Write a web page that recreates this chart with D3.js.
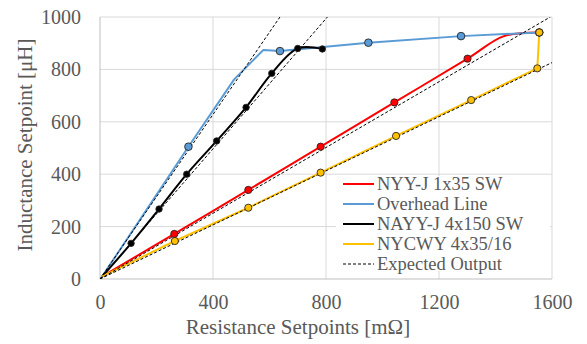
<!DOCTYPE html>
<html><head><meta charset="utf-8">
<script src="https://cdn.jsdelivr.net/npm/d3@7"></script>
<style>
html,body{margin:0;padding:0;background:#fff;}
svg{display:block;font-family:"Liberation Serif","Times New Roman",serif;}
</style></head>
<body>
<svg id="chart" width="587" height="344"></svg>
<script>
// ---- data ----
const xTicks = [0, 400, 800, 1200, 1600];
const yTicks = [0, 200, 400, 600, 800, 1000];

const seriesNames = ["NYY-J 1x35 SW", "Overhead Line", "NAYY-J 4x150 SW", "NYCWY 4x35/16"];
const expectedName = "Expected Output";

const nyyX = [8, 263, 525, 781, 1042, 1301, 1430, 1555];
const nyyY = [10, 172, 340, 505, 674, 841, 927, 941];
const nyyMark = [0, 1, 1, 1, 1, 1, 0, 1];

const ohlX = [8, 313, 475, 578, 637, 950, 1278, 1555];
const ohlY = [10, 505, 762, 874, 870, 902, 927, 941];
const ohlMark = [0, 1, 0, 0, 1, 1, 1, 1];

const nayyX = [8, 110, 209, 307, 413, 517, 608, 700, 787];
const nayyY = [10, 136, 267, 400, 527, 655, 785, 880, 878];
const nayyMark = [0, 1, 1, 1, 1, 1, 1, 1, 1];

const nycwyX = [8, 265, 525, 781, 1048, 1314, 1548, 1555];
const nycwyY = [10, 145, 272, 406, 546, 683, 804, 941];
const nycwyMark = [0, 1, 1, 1, 1, 1, 1, 1];

// expected output lines (start and end points)
const expOhlX = [0, 637], expOhlY = [0, 1000];
const expNayyX = [0, 805], expNayyY = [0, 1000];
const expNyyX = [0, 1594], expNyyY = [0, 1000];
const expNycwyX = [0, 1600], expNycwyY = [0, 826];

// ---- drawing ----
const svg = d3.select("#chart");
const L = 100, R = 552, T = 17, B = 279;
const x = d3.scaleLinear().domain([0, 1600]).range([L, R]);
const y = d3.scaleLinear().domain([0, 1000]).range([B, T]);
const textCol = "#595959";

// gridlines
svg.append("g").selectAll("line.h").data(yTicks.filter(d => d > 0)).join("line")
  .attr("x1", L).attr("x2", R).attr("y1", d => y(d)).attr("y2", d => y(d))
  .attr("stroke", "#d9d9d9").attr("stroke-width", 1);
svg.append("g").selectAll("line.v").data(xTicks.filter(d => d > 0)).join("line")
  .attr("y1", T).attr("y2", B).attr("x1", d => x(d)).attr("x2", d => x(d))
  .attr("stroke", "#d9d9d9").attr("stroke-width", 1);
// axes lines
svg.append("line").attr("x1", L).attr("x2", L).attr("y1", T).attr("y2", B).attr("stroke", "#bfbfbf");
svg.append("line").attr("x1", L).attr("x2", R).attr("y1", B).attr("y2", B).attr("stroke", "#bfbfbf");

// tick labels
const yAxis = d3.axisLeft(y).tickValues(yTicks).tickSize(0).tickPadding(19).tickFormat(d3.format("d"));
const ya = svg.append("g").attr("transform", `translate(${L},0)`).call(yAxis);
ya.select(".domain").remove();
ya.selectAll("text").attr("font-size", 20).attr("fill", textCol).attr("font-family", "Liberation Serif");

const xAxis = d3.axisBottom(x).tickValues(xTicks).tickSize(0).tickPadding(16).tickFormat(d3.format("d"));
const xa = svg.append("g").attr("transform", `translate(0,${B})`).call(xAxis);
xa.select(".domain").remove();
xa.selectAll("text").attr("font-size", 20).attr("fill", textCol).attr("font-family", "Liberation Serif");

// axis titles
svg.append("text").attr("x", (L + R) / 2 - 28).attr("y", 334).attr("text-anchor", "middle")
  .attr("font-size", 21).attr("fill", textCol).text("Resistance Setpoints [mΩ]");
svg.append("text").attr("transform", "translate(32,145) rotate(-90)").attr("text-anchor", "middle")
  .attr("font-size", 21).attr("fill", textCol).text("Inductance Setpoint [μH]");

// clip
svg.append("clipPath").attr("id", "plotclip").append("rect")
  .attr("x", L).attr("y", T).attr("width", R - L).attr("height", B - T);
const plot = svg.append("g").attr("clip-path", "url(#plotclip)");

const zip = (xs, ys) => xs.map((v, i) => [v, ys[i]]);
const lineLin = d3.line().x(d => x(d[0])).y(d => y(d[1]));
const lineSmooth = d3.line().x(d => x(d[0])).y(d => y(d[1])).curve(d3.curveCatmullRom.alpha(0.5));

// series configuration
const series = [
  {name: seriesNames[2], xs: nayyX, ys: nayyY, mk: nayyMark, color: "#000000", mfill: "#000000", gen: lineSmooth, r: 3.2},
  {name: seriesNames[0], xs: nyyX, ys: nyyY, mk: nyyMark, color: "#ff0000", mfill: "#ff0000", gen: lineSmooth, r: 3.6},
  {name: seriesNames[3], xs: nycwyX, ys: nycwyY, mk: nycwyMark, color: "#ffc000", mfill: "#ffc000", gen: lineLin, r: 3.6},
  {name: seriesNames[1], xs: ohlX, ys: ohlY, mk: ohlMark, color: "#5b9bd5", mfill: "#5b9bd5", gen: lineLin, r: 3.8},
];

// lines
const order = [series[1], series[3], series[0], series[2]];
order.forEach(s => {
  plot.append("path").datum(zip(s.xs, s.ys))
    .attr("d", s.gen)
    .attr("fill", "none").attr("stroke", s.color).attr("stroke-width", 2)
    .attr("stroke-linejoin", "round");
});

// expected lines
[[expOhlX, expOhlY], [expNayyX, expNayyY], [expNyyX, expNyyY], [expNycwyX, expNycwyY]].forEach(e => {
  plot.append("path").datum(zip(e[0], e[1])).attr("d", lineLin)
    .attr("fill", "none").attr("stroke", "#000").attr("stroke-width", 1)
    .attr("stroke-dasharray", "3,2");
});

// markers
order.forEach(s => {
  const pts = zip(s.xs, s.ys).filter((d, i) => s.mk[i]);
  svg.append("g").selectAll("circle").data(pts).join("circle")
    .attr("cx", d => x(d[0])).attr("cy", d => y(d[1])).attr("r", s.r)
    .attr("fill", s.mfill).attr("stroke", "#262626").attr("stroke-width", 0.9);
});

// legend
const lg = svg.append("g");
lg.append("rect").attr("x", 336).attr("y", 176).attr("width", 214).attr("height", 95).attr("fill", "#fff");
const legendItems = [
  {label: seriesNames[0], color: "#ff0000", dash: null, w: 2},
  {label: seriesNames[1], color: "#5b9bd5", dash: null, w: 2},
  {label: seriesNames[2], color: "#000000", dash: null, w: 2},
  {label: seriesNames[3], color: "#ffc000", dash: null, w: 2},
  {label: expectedName, color: "#000000", dash: "3,2", w: 1},
];
legendItems.forEach((it, i) => {
  const by = 190 + i * 20;
  lg.append("line").attr("x1", 343).attr("x2", 374).attr("y1", by - 6).attr("y2", by - 6)
    .attr("stroke", it.color).attr("stroke-width", it.w).attr("stroke-dasharray", it.dash);
  lg.append("text").attr("x", 377).attr("y", by).attr("font-size", 18.5).attr("fill", textCol).text(it.label);
});
</script>
</body></html>
